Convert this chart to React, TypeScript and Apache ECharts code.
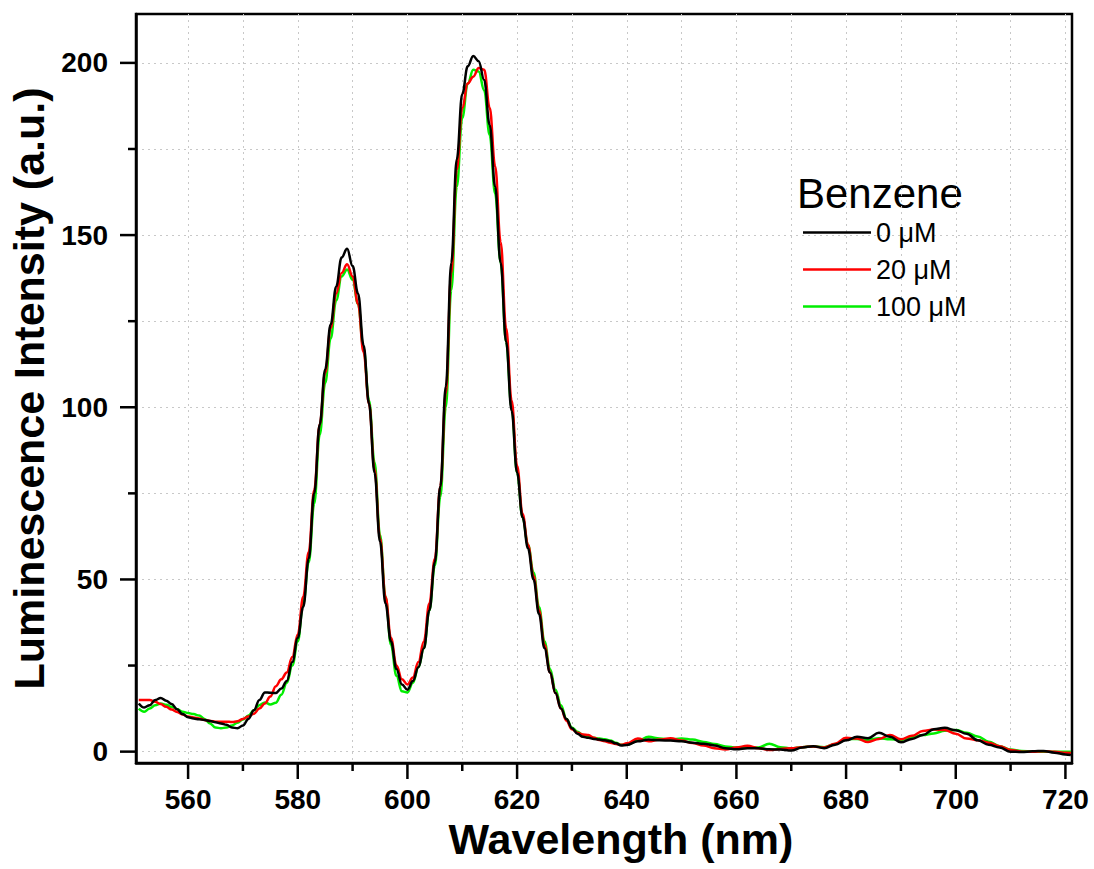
import React, { useEffect, useRef } from "react";
import * as echarts from "echarts";

const wavelengths = [
  551, 552, 553, 554, 555, 556, 557, 558, 559, 560,
  561, 562, 563, 564, 565, 566, 567, 568, 569, 570,
  571, 572, 573, 574, 575, 576, 577, 578, 579, 580,
  581, 582, 583, 584, 585, 586, 587, 588, 589, 590,
  591, 592, 593, 594, 595, 596, 597, 598, 599, 600,
  601, 602, 603, 604, 605, 606, 607, 608, 609, 610,
  611, 612, 613, 614, 615, 616, 617, 618, 619, 620,
  621, 622, 623, 624, 625, 626, 627, 628, 629, 630,
  631, 632, 633, 634, 635, 636, 637, 638, 639, 640,
  642, 644, 646, 648, 650, 652, 654, 656, 658, 660,
  662, 664, 666, 668, 670, 672, 674, 676, 678, 680,
  682, 684, 686, 688, 690, 692, 694, 696, 698, 700,
  702, 704, 706, 708, 710, 712, 714, 716, 718, 720,
  721,
];

const conc0 = [
  14.0, 12.8, 13.5, 15.0, 15.6, 14.8, 13.8, 12.3, 10.9, 10.0,
  9.6, 9.4, 9.2, 8.9, 8.5, 8.2, 7.8, 7.0, 6.8, 7.6,
  9.5, 12.0, 15.0, 17.2, 17.1, 17.0, 18.3, 20.5, 26, 33,
  42, 56, 75, 95, 111, 124, 135, 143.5, 146, 141,
  133, 118, 101, 81, 61, 43, 32, 24, 19.5, 18,
  20.5, 24.5, 30, 41, 55, 77, 106, 142, 172, 191,
  199, 202, 200.5, 195, 182, 164, 142, 119, 99, 81,
  68, 59, 50, 40, 30, 23, 17, 12.5, 9.5, 6.8,
  5.2, 4.3, 4.0, 3.7, 3.5, 3.3, 3.0, 2.4, 1.8, 1.9,
  3.0, 3.5, 3.3, 3.2, 3.0, 2.6, 2.3, 1.8, 1.0, 0.7,
  1.0, 1.0, 0.7, 0.6, 0.3, 1.2, 1.6, 1.0, 2.0, 3.3,
  4.3, 3.9, 5.5, 4.3, 2.7, 3.7, 4.8, 6.5, 6.9, 6.2,
  5.2, 3.3, 2.0, 1.2, 0, -0.1, 0.1, 0.2, -0.3, -0.8,
  -1.0,
];

const conc20 = [
  15, 15, 15, 14.5, 13.8, 13, 12.2, 11.5, 10.8, 10.2,
  9.9, 9.6, 9.2, 8.9, 8.7, 8.7, 8.7, 8.6, 8.8, 9.5,
  10.2, 11, 12.5, 14, 16, 19, 21, 23, 27.5, 34,
  45, 58, 76, 95, 110, 123, 133, 139, 141.5, 138,
  130, 116, 101, 82, 62, 45, 33, 25, 21, 19.5,
  21.5, 26, 32, 43, 56, 77, 104, 139, 169, 187,
  194, 196, 198.5, 198, 187, 170, 148, 123, 102, 83,
  69, 60, 51, 41, 31, 23, 17, 12.5, 9, 6.5,
  5.5, 5.0, 4.8, 4.0, 3.4, 3.0, 2.6, 2.2, 2.0, 2.4,
  3.8, 3.0, 3.5, 3.9, 3.2, 2.5, 1.8, 1.0, 0.6, 1.2,
  1.7, 1.0, 0.5, 0.8, 1.0, 1.3, 1.5, 1.2, 2.3, 4.0,
  3.8, 2.8, 3.7, 4.8, 3.6, 4.6, 6.0, 6.4, 6.3, 5.2,
  3.8, 3.3, 2.6, 1.6, 0.5, 0, 0, 0.1, 0, -0.3,
  -0.4,
];

const conc100 = [
  12.5, 11.6, 12.5, 13.5, 14, 13.6, 13, 12.3, 11.6, 11.2,
  10.9, 10.5, 9.5, 8.2, 7.0, 6.8, 7.0, 7.6, 8.4, 9.3,
  10.5, 12, 13.5, 14.3, 13.7, 14.2, 16.5, 20, 25, 32,
  43, 55, 72, 92, 107, 120, 131, 138, 140, 137,
  130, 117, 102, 84, 63, 45, 31, 22, 17.5, 17.2,
  20, 24.5, 30, 41, 54, 74, 100, 134, 164, 184,
  194, 198, 197.5, 192, 179, 162, 142, 119, 100, 81,
  68, 60, 52, 42, 32, 24, 18, 13.5, 9.5, 7,
  5.8, 4.8, 4.3, 4.0, 3.8, 3.6, 3.2, 2.6, 2.0, 2.0,
  3.2, 4.3, 3.8, 3.6, 3.8, 3.5, 2.8, 2.2, 1.5, 1.2,
  1.4, 1.2, 2.3, 1.3, 1.0, 1.3, 1.5, 1.3, 2.2, 3.6,
  3.7, 3.4, 3.9, 3.6, 3.4, 4.2, 4.8, 5.3, 6.1, 6.3,
  5.5, 4.4, 2.9, 1.6, 0.6, 0.2, 0, 0, 0, 0,
  0,
];

const seriesNames = ["0 \u03bcM", "20 \u03bcM", "100 \u03bcM"];
const seriesColors = ["#000000", "#ff0000", "#00ee00"];

const xMajorTicks = [560, 580, 600, 620, 640, 660, 680, 700, 720];
const xMinorTicks = [570, 590, 610, 630, 650, 670, 690, 710];
const xGridValues = [560, 570, 580, 590, 600, 610, 620, 630, 640, 650, 660, 670, 680, 690, 700, 710, 720];
const yMajorTicks = [0, 50, 100, 150, 200];
const yMinorTicks = [25, 75, 125, 175];
const yGridValues = [0, 25, 50, 75, 100, 125, 150, 175, 200];

const X_MIN = 550.5;
const X_MAX = 721.2;
const Y_MIN = -3.3;
const Y_MAX = 214.2;
const MAJOR_LEN = 16;
const MINOR_LEN = 8;

const FONT = "'Liberation Sans', Arial, sans-serif";

export default function App() {
  const ref = useRef<HTMLDivElement>(null);

  useEffect(() => {
    if (!ref.current) return;
    const chart = echarts.init(ref.current, null, { renderer: "svg" });
    const pairs = (vals: number[]) => wavelengths.map((w, i) => [w, vals[i]]);
    const allData = [conc0, conc20, conc100];
    const drawOrder = [2, 1, 0];

    const xBase = { type: "value", min: X_MIN, max: X_MAX };
    const yBase = { type: "value", min: Y_MIN, max: Y_MAX };

    const tickStyle = { stroke: "#000", lineWidth: 2.5 };
    const xTickSeries = (values: number[], len: number) => ({
      type: "custom",
      coordinateSystem: "cartesian2d",
      xAxisIndex: 0,
      yAxisIndex: 0,
      clip: false,
      silent: true,
      z: 5,
      data: values.map((v) => [v]),
      renderItem: (_p: any, api: any) => {
        const pt = api.coord([api.value(0), Y_MIN]);
        return {
          type: "line",
          shape: { x1: pt[0], y1: pt[1], x2: pt[0], y2: pt[1] + len },
          style: tickStyle,
        };
      },
    });
    const yTickSeries = (values: number[], len: number) => ({
      type: "custom",
      coordinateSystem: "cartesian2d",
      xAxisIndex: 0,
      yAxisIndex: 0,
      clip: false,
      silent: true,
      z: 5,
      data: values.map((v) => [X_MIN, v]),
      renderItem: (_p: any, api: any) => {
        const pt = api.coord([X_MIN, api.value(1)]);
        return {
          type: "line",
          shape: { x1: pt[0], y1: pt[1], x2: pt[0] - len, y2: pt[1] },
          style: tickStyle,
        };
      },
    });

    chart.setOption({
      animation: false,
      backgroundColor: "#ffffff",
      grid: {
        left: 136,
        right: 22,
        top: 14,
        bottom: 106,
        show: true,
        borderColor: "#000",
        borderWidth: 2.5,
        backgroundColor: "transparent",
        outerBoundsMode: "none",
      },
      xAxis: [
        {
          ...xBase,
          position: "bottom",
          axisLine: { show: true, onZero: false, lineStyle: { color: "#000", width: 2.5 } },
          axisTick: { show: false },
          axisLabel: {
            customValues: xMajorTicks,
            fontSize: 28,
            fontWeight: "bold",
            fontFamily: FONT,
            color: "#000",
            margin: 22,
          },
          splitLine: { show: false },
          name: "Wavelength (nm)",
          nameLocation: "middle",
          nameGap: 52,
          nameTextStyle: {
            fontSize: 43,
            fontWeight: "bold",
            fontFamily: FONT,
            color: "#000",
            padding: [0, 0, 0, 34],
          },
        },
        {
          ...xBase,
          position: "bottom",
          axisLine: { show: false, onZero: false },
          axisTick: { show: false, customValues: xGridValues },
          axisLabel: { show: false },
          splitLine: { show: true, lineStyle: { color: "#c8c8c8", width: 1, type: [2, 4] } },
        },
      ],
      yAxis: [
        {
          ...yBase,
          position: "left",
          axisLine: { show: true, onZero: false, lineStyle: { color: "#000", width: 2.5 } },
          axisTick: { show: false },
          axisLabel: {
            customValues: yMajorTicks,
            fontSize: 28,
            fontWeight: "bold",
            fontFamily: FONT,
            color: "#000",
            margin: 28,
          },
          splitLine: { show: false },
          name: "Luminescence Intensity (a.u.)",
          nameLocation: "middle",
          nameGap: 80,
          nameTextStyle: { fontSize: 43, fontWeight: "bold", fontFamily: FONT, color: "#000" },
        },
        {
          ...yBase,
          position: "left",
          axisLine: { show: false, onZero: false },
          axisTick: { show: false, customValues: yGridValues },
          axisLabel: { show: false },
          splitLine: { show: true, lineStyle: { color: "#c8c8c8", width: 1, type: [2, 4] } },
        },
      ],
      legend: {
        data: seriesNames,
        orient: "vertical",
        left: 803,
        top: 219,
        padding: 0,
        icon: "rect",
        itemWidth: 68,
        itemHeight: 2.5,
        itemGap: 10,
        textStyle: { fontSize: 27, fontFamily: FONT, color: "#000" },
      },
      graphic: [
        {
          type: "text",
          x: 797,
          y: 193,
          style: { text: "Benzene", font: `42px ${FONT}`, fill: "#000", verticalAlign: "middle" },
        },
      ],
      series: [
        ...drawOrder.map((i) => ({
          name: seriesNames[i],
          type: "line",
          xAxisIndex: 0,
          yAxisIndex: 0,
          data: pairs(allData[i]),
          showSymbol: false,
          symbol: "none",
          smooth: 0.4,
          smoothMonotone: "x",
          color: seriesColors[i],
          lineStyle: { color: seriesColors[i], width: 2.5 },
        })),
        xTickSeries(xMajorTicks, MAJOR_LEN),
        xTickSeries(xMinorTicks, MINOR_LEN),
        yTickSeries(yMajorTicks, MAJOR_LEN),
        yTickSeries(yMinorTicks, MINOR_LEN),
      ],
    });

    return () => chart.dispose();
  }, []);

  return (
    <div
      ref={ref}
      style={{ position: "fixed", left: 0, top: 0, width: 1094, height: 869, background: "#fff" }}
    />
  );
}
